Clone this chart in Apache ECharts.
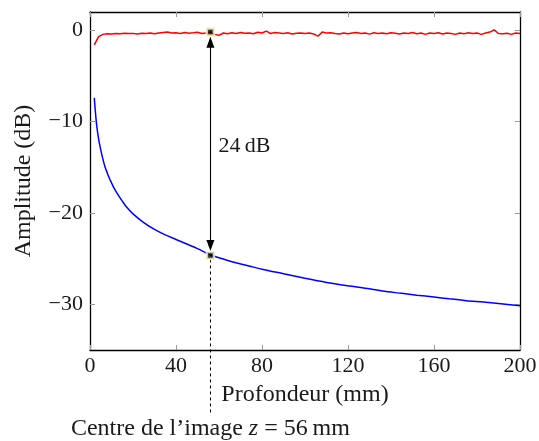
<!DOCTYPE html>
<html><head><meta charset="utf-8">
<script src="https://cdn.jsdelivr.net/npm/echarts@6/dist/echarts.min.js"></script>
<style>html,body{margin:0;padding:0;background:#fff}#c{width:539px;height:441px}</style>
</head><body><div id="c"></div>
<script>
const xTicks = [0, 40, 80, 120, 160, 200];
const yTicks = [-30, -20, -10, 0];
const redDepth = [2,4,6,8,10,12,14,16,18,20,22,24,26,28,30,32,34,36,38,40,42,44,46,48,50,52,54,56,58,60,62,64,66,68,70,72,74,76,78,80,82,84,86,88,90,92,94,96,98,100,102,104,106,108,110,112,114,116,118,120,122,124,126,128,130,132,134,136,138,140,142,144,146,148,150,152,154,156,158,160,162,164,166,168,170,172,174,176,178,180,182,184,186,188,190,192,194,196,198,200];
const redAmp = [-1.6,-0.7,-0.45,-0.38,-0.4,-0.35,-0.38,-0.33,-0.36,-0.34,-0.4,-0.33,-0.35,-0.3,-0.38,-0.3,-0.25,-0.2,-0.3,-0.27,-0.35,-0.25,-0.32,-0.28,-0.22,-0.35,-0.3,-0.2,-0.45,-0.55,-0.3,-0.38,-0.27,-0.35,-0.25,-0.33,-0.3,-0.38,-0.22,-0.3,-0.1,-0.35,-0.25,-0.3,-0.35,-0.28,-0.4,-0.32,-0.3,-0.35,-0.3,-0.4,-0.65,-0.2,-0.3,-0.28,-0.35,-0.4,-0.3,-0.38,-0.3,-0.25,-0.35,-0.3,-0.42,-0.28,-0.35,-0.3,-0.38,-0.27,-0.33,-0.4,-0.3,-0.35,-0.25,-0.38,-0.3,-0.45,-0.3,-0.35,-0.28,-0.4,-0.3,-0.35,-0.45,-0.3,-0.38,-0.28,-0.35,-0.3,-0.45,-0.3,-0.2,0.05,-0.35,-0.38,-0.32,-0.45,-0.3,-0.35];
const blueDepth = [2,3,4,5,6,7,8,9,10,11,13,15,17,20,25,30,35,40,45,50,56,60,67,74,80,90,100,110,121,130,136,145,152,160,167,175,183,190,200];
const blueAmp = [-7.4,-10.2,-11.9,-13.1,-14.1,-14.97,-15.6,-16.2,-16.7,-17.2,-18.0,-18.7,-19.35,-20.1,-21.05,-21.8,-22.4,-22.9,-23.4,-23.9,-24.6,-24.9,-25.4,-25.8,-26.15,-26.65,-27.15,-27.6,-28.0,-28.3,-28.55,-28.8,-29.0,-29.2,-29.4,-29.6,-29.75,-29.9,-30.15];
const refDepth = 56;
const refAmp = [-0.2, -24.65];
const gapText = '24\u2009dB';
const xName = 'Profondeur (mm)';
const yName = 'Amplitude (dB)';
const noteParts = ['Centre de l\u2019image ', 'z', ' = 56\u2009mm'];

const FONT = "'Liberation Serif', 'DejaVu Serif', serif";
const TXT = '#1a1a1a';
const zip = (a, b) => a.map((v, i) => [v, b[i]]);
const fmt = v => (v < 0 ? '\u2212' + Math.abs(v) : String(v));
const arrowGap = 1.1; // dB, leaves the arrow tips touching the square markers

const axisCommon = {
  type: 'value',
  axisLine: { show: true, onZero: false, lineStyle: { color: '#000', width: 1.3 } },
  axisTick: { show: true, inside: true, length: 5, lineStyle: { color: '#999', width: 1 } },
  splitLine: { show: false },
  nameMoveOverlap: false
};

const chart = echarts.init(document.getElementById('c'), null, { renderer: 'canvas' });
chart.setOption({
  animation: false,
  backgroundColor: '#fff',
  grid: { left: 90, right: 19, top: 12, bottom: 91, containLabel: false, outerBoundsMode: 'none' },
  xAxis: [
    Object.assign({}, axisCommon, {
      position: 'bottom', min: 0, max: 200, interval: 40,
      axisLabel: { color: TXT, fontFamily: FONT, fontSize: 22, margin: 5 },
      name: xName, nameLocation: 'middle', nameGap: 33,
      nameTextStyle: { color: TXT, fontFamily: FONT, fontSize: 24 }
    }),
    Object.assign({}, axisCommon, {
      position: 'top', min: 0, max: 200, interval: 40,
      axisLabel: { show: false }
    })
  ],
  yAxis: [
    Object.assign({}, axisCommon, {
      position: 'left', min: -35, max: 2,
      axisTick: Object.assign({}, axisCommon.axisTick, { customValues: yTicks }),
      axisLabel: { customValues: yTicks, formatter: fmt, color: TXT, fontFamily: FONT, fontSize: 22, margin: 7 },
      name: yName, nameLocation: 'middle', nameGap: 54, nameRotate: 90,
      nameTextStyle: { color: TXT, fontFamily: FONT, fontSize: 24 }
    }),
    Object.assign({}, axisCommon, {
      position: 'right', min: -35, max: 2,
      axisTick: Object.assign({}, axisCommon.axisTick, { customValues: yTicks }),
      axisLabel: { show: false, customValues: yTicks }
    })
  ],
  series: [
    {
      type: 'line', data: zip(redDepth, redAmp), showSymbol: false, symbol: 'none',
      lineStyle: { color: '#ff0000', width: 1.5 }, z: 2
    },
    {
      type: 'line', data: zip(blueDepth, blueAmp), showSymbol: false, symbol: 'none', smooth: 0.3,
      lineStyle: { color: '#0000ff', width: 1.5 }, z: 2
    },
    {
      type: 'scatter', data: [], clip: false, z: 3,
      markLine: {
        silent: true, animation: false,
        label: { show: false },
        symbol: ['path://M5,0 L10,13 L0,13 Z', 'path://M5,0 L10,13 L0,13 Z'], symbolSize: [8, 11],
        data: [
          [{ coord: [refDepth, refAmp[0] - arrowGap] }, { coord: [refDepth, refAmp[1] + arrowGap] }]
        ],
        lineStyle: { color: '#000', width: 1.1, type: 'solid' },
        itemStyle: { color: '#000' }
      },
      markPoint: {
        silent: true, animation: false,
        symbol: 'circle', symbolSize: 0,
        data: [
          { coord: [refDepth, (refAmp[0] + refAmp[1]) / 2 - 0.3],
            label: { show: true, formatter: gapText, position: 'right', distance: 8, color: TXT, fontFamily: FONT, fontSize: 22 } }
        ]
      }
    },
    {
      type: 'scatter', data: [[refDepth, refAmp[0]], [refDepth, refAmp[1]]], symbol: 'rect', symbolSize: 7,
      itemStyle: { color: '#000', borderColor: '#f8f3c0', borderWidth: 2.5 }, z: 5, clip: false
    }
  ]
});

// Annotation below the plot, positioned through the chart's own scales
const pTop = chart.convertToPixel({ gridIndex: 0 }, [refDepth, refAmp[1]]);
const pEnd = chart.convertToPixel({ gridIndex: 0 }, [refDepth, -41.9]);
const pText = chart.convertToPixel({ gridIndex: 0 }, [refDepth, -43.6]);
chart.setOption({
  graphic: [
    { type: 'line', z: 1, silent: true,
      shape: { x1: Math.round(pTop[0]) + 0.5, y1: pTop[1] + 4, x2: Math.round(pTop[0]) + 0.5, y2: pEnd[1] },
      style: { stroke: '#000', lineWidth: 1, lineDash: [3, 3] } },
    { type: 'text', z: 10, silent: true, x: pText[0], y: pText[1],
      style: {
        text: '{a|' + noteParts[0] + '}{i|' + noteParts[1] + '}{a|' + noteParts[2] + '}',
        align: 'center', verticalAlign: 'middle', fill: TXT, font: '24px ' + FONT,
        rich: { a: { fontFamily: FONT, fontSize: 24, fill: TXT, color: TXT }, i: { fontFamily: FONT, fontSize: 24, fontStyle: 'italic', fill: TXT, color: TXT } }
      } }
  ]
});
</script></body></html>
